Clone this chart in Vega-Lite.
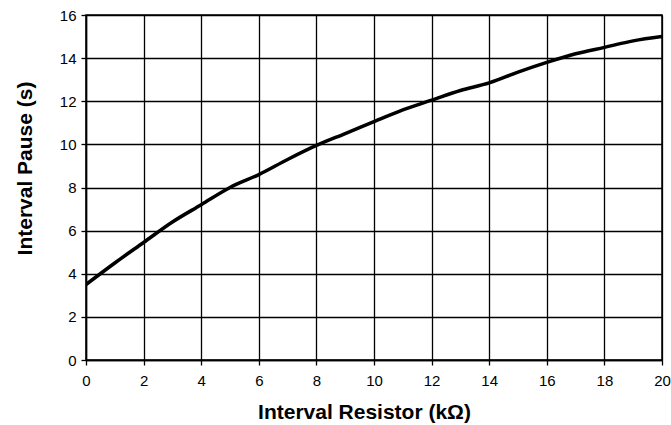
{
  "$schema": "https://vega.github.io/schema/vega-lite/v6.json",
  "width": 576,
  "height": 345,
  "autosize": "none",
  "padding": {"left": 86, "top": 15, "right": 9, "bottom": 65},
  "background": "white",
  "data": {"values": [
    {"r": 0, "p": 3.5},
    {"r": 1, "p": 4.5},
    {"r": 2, "p": 5.45},
    {"r": 3, "p": 6.4},
    {"r": 4, "p": 7.2},
    {"r": 5, "p": 8.0},
    {"r": 6, "p": 8.6},
    {"r": 7, "p": 9.3},
    {"r": 8, "p": 9.95},
    {"r": 9, "p": 10.5},
    {"r": 10, "p": 11.05},
    {"r": 11, "p": 11.6},
    {"r": 12, "p": 12.05},
    {"r": 13, "p": 12.5},
    {"r": 14, "p": 12.85},
    {"r": 15, "p": 13.35},
    {"r": 16, "p": 13.8},
    {"r": 17, "p": 14.2},
    {"r": 18, "p": 14.5},
    {"r": 19, "p": 14.8},
    {"r": 20, "p": 15.0}
  ]},
  "mark": {"type": "line", "color": "black", "strokeWidth": 3.5, "interpolate": "monotone", "clip": true},
  "encoding": {
    "x": {
      "field": "r", "type": "quantitative",
      "scale": {"domain": [0, 20], "nice": false, "zero": false},
      "axis": {
        "title": "Interval Resistor (kΩ)",
        "values": [0, 2, 4, 6, 8, 10, 12, 14, 16, 18, 20],
        "format": "d",
        "labelFontSize": 15,
        "labelPadding": 8,
        "titleFontSize": 21,
        "titleX": 278,
        "titleY": 58,
        "titleAlign": "center",
        "titleBaseline": "alphabetic"
      }
    },
    "y": {
      "field": "p", "type": "quantitative",
      "scale": {"domain": [0, 16], "nice": false},
      "axis": {
        "title": "Interval Pause (s)",
        "values": [0, 2, 4, 6, 8, 10, 12, 14, 16],
        "format": "d",
        "labelFontSize": 15,
        "labelPadding": 5,
        "titleFontSize": 21,
        "titleX": -61,
        "titleY": 153,
        "titleAlign": "center",
        "titleAngle": -90,
        "titleBaseline": "middle"
      }
    }
  },
  "config": {
    "font": "Liberation Sans",
    "view": {"stroke": "black", "strokeWidth": 1.5},
    "axis": {
      "domainColor": "black",
      "domainWidth": 1.5,
      "gridColor": "black",
      "gridOpacity": 1,
      "gridWidth": 1.3,
      "tickColor": "black",
      "tickSize": 5,
      "tickWidth": 1.3,
      "labelColor": "black",
      "labelFont": "Liberation Sans",
      "labelFlush": false,
      "titleColor": "black",
      "titleFont": "Liberation Sans",
      "titleFontWeight": "bold"
    }
  }
}
